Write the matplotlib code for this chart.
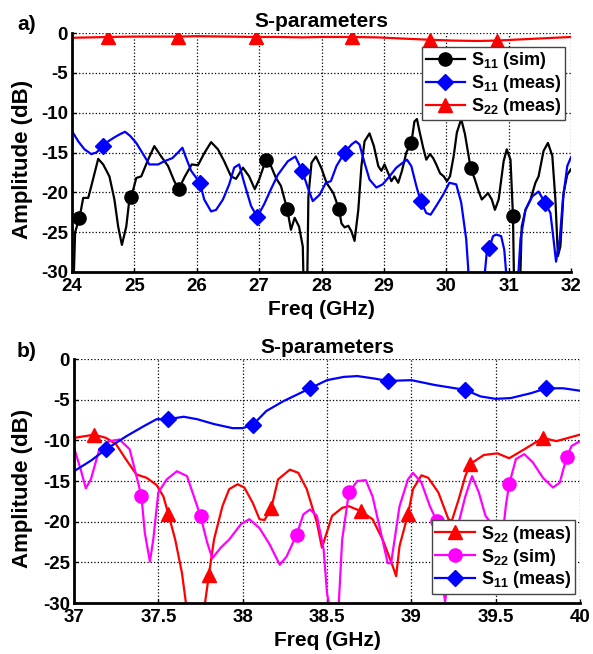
import numpy as np
import matplotlib
matplotlib.use('Agg')
import matplotlib.pyplot as plt

plt.rcParams['font.family'] = ['Liberation Sans', 'DejaVu Sans']
plt.rcParams['font.weight'] = 'bold'
plt.rcParams['axes.labelweight'] = 'bold'
plt.rcParams['axes.titleweight'] = 'bold'
plt.rcParams['axes.unicode_minus'] = False
plt.rcParams['mathtext.fontset'] = 'custom'
plt.rcParams['mathtext.rm'] = 'Liberation Sans:bold'
plt.rcParams['mathtext.bf'] = 'Liberation Sans:bold'
plt.rcParams['mathtext.it'] = 'Liberation Sans:bold'
plt.rcParams['mathtext.default'] = 'rm'

# ---------------- Panel a) 24-32 GHz ----------------
a_sim_x = [24.0, 24.05, 24.12, 24.18, 24.26, 24.31, 24.42, 24.5, 24.6, 24.68, 24.74, 24.8, 24.87, 24.92, 24.95,
           25.03, 25.11, 25.22, 25.32, 25.43, 25.54, 25.64, 25.71, 25.81, 25.92, 26.02, 26.12, 26.23, 26.34,
           26.44, 26.55, 26.63, 26.74, 26.84, 26.93, 27.0, 27.11, 27.19, 27.27, 27.35, 27.45, 27.51, 27.57,
           27.64, 27.7, 27.73, 27.76, 27.79, 27.84, 27.91, 28.0, 28.08, 28.19, 28.28, 28.32, 28.37, 28.43,
           28.48, 28.53, 28.59, 28.64, 28.69, 28.77, 28.84, 28.91, 28.96, 29.01, 29.07, 29.12, 29.17, 29.23,
           29.29, 29.36, 29.44, 29.49, 29.53, 29.57, 29.63, 29.68, 29.74, 29.79, 29.84, 29.9, 29.96, 30.01,
           30.06, 30.12, 30.17, 30.24, 30.3, 30.39, 30.46, 30.52, 30.57, 30.62, 30.67, 30.73, 30.78, 30.84,
           30.92, 30.97, 31.03, 31.07, 31.1, 31.16, 31.21, 31.27, 31.35, 31.43, 31.48, 31.56, 31.63, 31.7,
           31.75, 31.79, 31.83, 31.88, 31.94, 32.0]
a_sim_y = [-38, -25, -23.2, -20.7, -20.7, -19.2, -15.8, -16.5, -18, -20.9, -24.3, -26.6, -24.3, -20.9, -20.6,
           -18.2, -18, -15.9, -14.2, -15.5, -16.7, -18.6, -19.6, -18, -16.5, -16.6, -15.1, -13.7, -14.6,
           -16.1, -18, -18.3, -16.9, -18, -19.6, -18.4, -15.9, -16.7, -18.2, -19.2, -22.1, -24.7, -23.2,
           -24.3, -26.8, -38, -38, -20.5, -16.3, -15.5, -17.0, -18.8, -20.1, -22.1, -23.9, -24.4, -24.2,
           -24.9, -26.1, -22.2, -16.7, -13.6, -12.6, -14.2, -16.7, -17.3, -16.5, -17.6, -18.6, -18, -18.8,
           -17.3, -15, -13.8, -11.1, -10.8, -12.3, -14.4, -15.9, -15.2, -15.7, -16.5, -17.6, -18, -18.6,
           -18, -15.4, -12.5, -10.8, -12.7, -16.9, -18.4, -19.9, -20.9, -20.5, -20.1, -20.9, -22.2, -20.9,
           -16.1, -14.6, -15.9, -23, -38, -38, -24.3, -22.2, -20.9, -18.8, -18, -14.8, -13.8, -15.4,
           -20.9, -28, -26.8, -20.1, -17.8, -17.1]
a_sim_mk = [24.12, 24.95, 25.71, 27.11, 27.45, 28.28, 29.44, 30.39, 31.07]

a_meas_x = [24.0, 24.1, 24.2, 24.31, 24.39, 24.5, 24.58, 24.68, 24.77, 24.85, 24.93, 25.03, 25.14, 25.24,
            25.38, 25.48, 25.61, 25.7, 25.77, 25.83, 25.91, 26.05, 26.12, 26.23, 26.31, 26.42, 26.52, 26.6,
            26.68, 26.76, 26.87, 26.97, 27.08, 27.19, 27.3, 27.46, 27.58, 27.69, 27.78, 27.86, 27.97, 28.07,
            28.15, 28.24, 28.37, 28.48, 28.55, 28.61, 28.69, 28.77, 28.88, 28.98, 29.09, 29.2, 29.3, 29.37,
            29.44, 29.52, 29.59, 29.68, 29.75, 29.84, 29.95, 30.05, 30.16, 30.24, 30.32, 30.36, 30.38, 30.59,
            30.62, 30.65, 30.69, 30.75, 30.8, 30.88, 30.93, 30.97, 31.0, 31.12, 31.15, 31.19, 31.27, 31.38,
            31.48, 31.59, 31.67, 31.72, 31.76, 31.82, 31.87, 31.94, 32.0]
a_meas_y = [-12.3, -13.6, -14.6, -15.2, -15.0, -14.2, -13.6, -13.1, -12.7, -12.4, -12.9, -13.8, -15.2, -16.5,
            -16.5, -16.1, -15.7, -15.0, -14.4, -15.7, -17.3, -18.8, -20.9, -22.4, -22.2, -20.9, -19.0, -16.9,
            -16.5, -18.8, -21.7, -23.1, -21.5, -19.6, -17.8, -16.1, -15.5, -17.3, -19.4, -21.1, -20.3, -18.8,
            -18.6, -16.7, -15.0, -14.0, -13.6, -14.0, -16.3, -18.4, -19.4, -19.0, -18.0, -16.9, -16.3, -15.9,
            -16.7, -19.2, -21.1, -22.6, -22.8, -21.7, -20.3, -18.8, -19.0, -21.3, -25.9, -30.5, -40, -40,
            -30, -27.5, -27.0, -25.5, -25.3, -25.5, -27.2, -31, -40, -40, -31, -25.9, -22.2, -20.5,
            -19.9, -21.4, -22.6, -25.9, -28.7, -25.9, -20.9, -16.7, -15.6]
a_meas_mk = [24.5, 26.05, 26.97, 27.69, 28.37, 29.59, 30.69, 31.59]

a_s22_x = [24.0, 24.3, 24.58, 25.0, 25.4, 25.7, 26.0, 26.5, 26.95, 27.3, 27.7, 28.0, 28.49, 28.9, 29.3,
           29.74, 30.1, 30.5, 30.81, 31.2, 31.6, 32.0]
a_s22_y = [-0.6, -0.55, -0.5, -0.45, -0.45, -0.45, -0.4, -0.45, -0.5, -0.5, -0.55, -0.5, -0.5, -0.55, -0.7,
           -0.85, -0.95, -1.0, -0.95, -0.8, -0.65, -0.5]
a_s22_mk = [24.58, 25.7, 26.95, 28.49, 29.74, 30.81]

a_xticks = [24, 25, 26, 27, 28, 29, 30, 31, 32]

# ---------------- Panel b) 37-40 GHz ----------------
b_s22_x = [37.0, 37.12, 37.19, 37.25, 37.31, 37.37, 37.43, 37.49, 37.53, 37.56, 37.6, 37.64, 37.67, 37.77,
           37.8, 37.83, 37.88, 37.92, 37.97, 38.01, 38.06, 38.1, 38.13, 38.17, 38.21, 38.28, 38.33, 38.38,
           38.44, 38.47, 38.53, 38.59, 38.63, 38.7, 38.77, 38.83, 38.89, 38.91, 38.93, 38.98, 39.01, 39.06,
           39.1, 39.16, 39.22, 39.24, 39.28, 39.32, 39.35, 39.43, 39.51, 39.58, 39.67, 39.78, 39.86, 40.0]
b_s22_y = [-9.7, -9.3, -9.7, -10.5, -12.4, -14.2, -14.6, -15.5, -16.9, -19.1, -22.2, -26.3, -31, -31,
           -26.5, -22.2, -18.1, -16.0, -15.4, -15.8, -17.7, -19.7, -19.8, -18.3, -14.8, -13.6, -14.0, -16.0,
           -20.1, -23.2, -19.3, -18.3, -18.1, -18.7, -19.7, -22.2, -25.5, -26.7, -23.0, -19.1, -16.0, -14.3,
           -14.6, -16.4, -19.7, -19.9, -17.3, -14.4, -12.9, -11.8, -11.6, -12.2, -11.1, -9.7, -10.1, -9.3]
b_s22_mk = [37.12, 37.56, 37.8, 38.17, 38.7, 38.98, 39.35, 39.78]

b_sim_x = [37.0, 37.04, 37.07, 37.1, 37.15, 37.21, 37.27, 37.33, 37.38, 37.4, 37.42, 37.45, 37.47, 37.5,
           37.55, 37.61, 37.67, 37.75, 37.79, 37.82, 37.87, 37.92, 37.99, 38.04, 38.1, 38.16, 38.22, 38.26,
           38.32, 38.36, 38.4, 38.44, 38.48, 38.5, 38.52, 38.55, 38.57, 38.59, 38.63, 38.68, 38.73, 38.77,
           38.82, 38.86, 38.88, 38.93, 38.98, 39.01, 39.06, 39.11, 39.15, 39.18, 39.2, 39.22, 39.27, 39.32,
           39.36, 39.4, 39.44, 39.47, 39.51, 39.54, 39.56, 39.58, 39.62, 39.67, 39.72, 39.78, 39.84, 39.88,
           39.92, 39.95, 40.0]
b_sim_y = [-10.9, -13.6, -15.9, -14.8, -11.1, -10.1, -9.9, -11.1, -15.2, -16.9, -21.4, -24.9, -22.2, -16.4,
           -14.8, -13.8, -14.4, -19.3, -22.6, -24.5, -23.2, -22.2, -20.3, -19.7, -20.8, -22.8, -25.3, -24.3,
           -21.6, -19.1, -18.5, -19.3, -23.4, -28.8, -31, -31, -30, -22.2, -16.4, -15.0, -14.9, -16.9,
           -21.4, -25.1, -25.1, -18.1, -14.8, -14.0, -15.2, -18.1, -19.9, -27.1, -29.8, -27.0, -21, -16.9,
           -14.4, -16.4, -19.3, -20.1, -24, -22, -18.1, -15.4, -12.3, -11.7, -12.7, -14.6, -15.8, -15.2,
           -12.1, -10.7, -10.1]
b_sim_mk = [37.4, 37.75, 38.32, 38.63, 39.15, 39.58, 39.92]

b_s11_x = [37.0, 37.1, 37.19, 37.31, 37.41, 37.49, 37.56, 37.65, 37.73, 37.83, 37.94, 38.0, 38.06, 38.14,
           38.24, 38.32, 38.40, 38.5, 38.6, 38.68, 38.78, 38.86, 39.0, 39.14, 39.32, 39.41, 39.5, 39.59,
           39.71, 39.8, 39.9, 40.0]
b_s11_y = [-13.8, -12.5, -11.1, -9.5, -8.3, -7.4, -7.4, -7.1, -7.4, -8.0, -8.5, -8.5, -8.1, -6.4,
           -5.2, -4.4, -3.6, -2.6, -2.2, -2.1, -2.4, -2.7, -2.6, -3.2, -3.8, -4.6, -4.9, -4.8,
           -4.2, -3.6, -3.6, -3.9]
b_s11_mk = [37.19, 37.56, 38.06, 38.40, 38.86, 39.32, 39.8]

b_xticks = [37, 37.5, 38, 38.5, 39, 39.5, 40]
b_xticklabels = ['37', '37.5', '38', '38.5', '39', '39.5', '40']

y_ticks = [-30, -25, -20, -15, -10, -5, 0]


def mk_idx(xs, mks):
    xs = np.asarray(xs)
    return [int(np.argmin(np.abs(xs - m))) for m in mks]


W, H = 593, 654
fig = plt.figure(figsize=(W / 100, H / 100), dpi=100)
ax1 = fig.add_axes([72 / W, 1 - 272 / H, 499 / W, 239 / H])
ax2 = fig.add_axes([74 / W, 1 - 603 / H, 506 / W, 244 / H])

LW = 1.6
ax1.plot(a_sim_x, a_sim_y, color='black', lw=LW, marker='o', ms=9.5,
         markevery=mk_idx(a_sim_x, a_sim_mk), label='S$_{11}$ (sim)')
ax1.plot(a_meas_x, a_meas_y, color='#0000ff', lw=LW, marker='D', ms=8.5,
         markevery=mk_idx(a_meas_x, a_meas_mk), label='S$_{11}$ (meas)')
ax1.plot(a_s22_x, a_s22_y, color='#ff0000', lw=LW, marker='^', ms=10,
         markevery=mk_idx(a_s22_x, a_s22_mk), label='S$_{22}$ (meas)')

ax2.plot(b_s22_x, b_s22_y, color='#ff0000', lw=LW, marker='^', ms=10,
         markevery=mk_idx(b_s22_x, b_s22_mk), label='S$_{22}$ (meas)')
ax2.plot(b_sim_x, b_sim_y, color='#ff00ff', lw=LW, marker='o', ms=9.5,
         markevery=mk_idx(b_sim_x, b_sim_mk), label='S$_{22}$ (sim)')
ax2.plot(b_s11_x, b_s11_y, color='#0000ff', lw=LW, marker='D', ms=8.5,
         markevery=mk_idx(b_s11_x, b_s11_mk), label='S$_{11}$ (meas)')

for ax, xlim, xt, lx in ((ax1, (24, 32), a_xticks, -0.078), (ax2, (37, 40), b_xticks, -0.081)):
    ax.set_xlim(*xlim)
    ax.set_ylim(-30, 0)
    ax.set_xticks(xt)
    ax.set_yticks(y_ticks)
    ax.grid(True, color='black', linestyle=':', linewidth=0.9)
    ax.set_axisbelow(True)
    for s in ('top', 'right'):
        ax.spines[s].set_visible(False)
    for s in ('left', 'bottom'):
        ax.spines[s].set_linewidth(2.0)
    ax.tick_params(axis='x', direction='in', length=3, width=1, labelsize=13.5, pad=4)
    ax.tick_params(axis='y', direction='in', length=3, width=1, labelsize=13.5, pad=3)
    ax.set_title('S-parameters', fontsize=15, fontweight='bold', pad=4)
    ax.set_xlabel('Freq (GHz)', fontsize=15, fontweight='bold', labelpad=4)
    ax.set_ylabel('Amplitude (dB)', fontsize=16, fontweight='bold')
    ax.yaxis.set_label_coords(lx, 0.47)

ax2.set_xticklabels(b_xticklabels)

leg_kw = dict(fontsize=13, handlelength=2.2, borderpad=0.2, labelspacing=0.1, handletextpad=0.3,
              fancybox=False, framealpha=1, edgecolor='#444444', borderaxespad=0)
l1 = ax1.legend(loc='upper right', bbox_to_anchor=(0.988, 0.943), **leg_kw)
l2 = ax2.legend(loc='lower right', bbox_to_anchor=(0.99, 0.037), **leg_kw)
for l in (l1, l2):
    l.get_frame().set_linewidth(1.0)

fig.text(17 / W, 1 - 24 / H, 'a)', fontsize=15, fontweight='bold', va='center', ha='left')
fig.text(17 / W, 1 - 352 / H, 'b)', fontsize=15, fontweight='bold', va='center', ha='left')

fig.savefig('out.png', dpi=100)
